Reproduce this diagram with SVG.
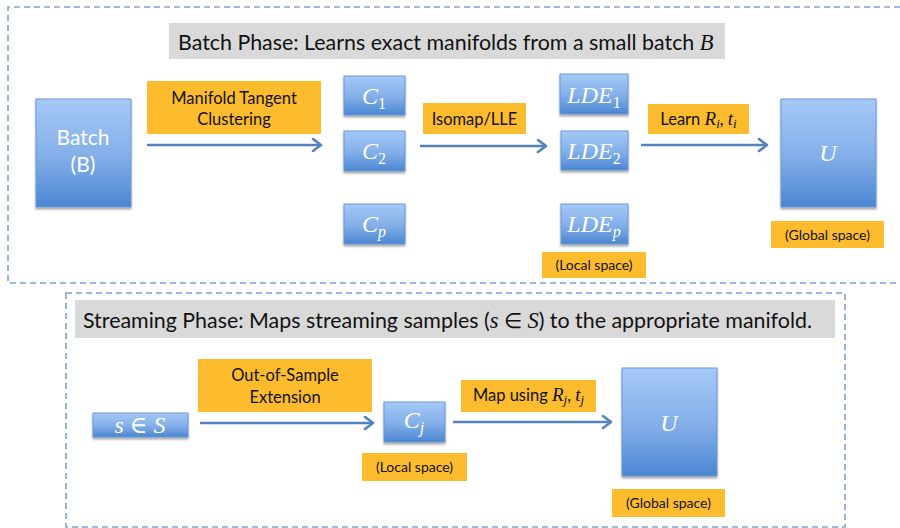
<svg xmlns="http://www.w3.org/2000/svg" width="900" height="528" viewBox="0 0 900 528">
<defs>
<linearGradient id="blue" x1="0" y1="0" x2="0" y2="1">
<stop offset="0" stop-color="#a5c9f8"/>
<stop offset="0.55" stop-color="#82aee8"/>
<stop offset="1" stop-color="#4a86d2"/>
</linearGradient>
<filter id="sh" x="-10%" y="-10%" width="130%" height="130%">
<feGaussianBlur in="SourceAlpha" stdDeviation="1.2"/>
<feOffset dx="0" dy="1.5" result="b"/>
<feComponentTransfer><feFuncA type="linear" slope="0.35"/></feComponentTransfer>
<feMerge><feMergeNode/><feMergeNode in="SourceGraphic"/></feMerge>
</filter>
<marker id="ah" markerUnits="userSpaceOnUse" markerWidth="14" markerHeight="16" refX="10" refY="7" orient="auto">
<path d="M2,1 L10,7 L2,13" fill="none" stroke="#5482bf" stroke-width="2.6" stroke-linecap="round" stroke-linejoin="round"/>
</marker>
</defs>
<style>
.frame{fill:none;stroke:#7ea2d2;stroke-width:1.6;stroke-dasharray:6 4}
.title{fill:#d9d9d9}
.tt{font-family:Lato,"Open Sans",sans-serif;font-size:21.4px;fill:#111}
.node{fill:url(#blue);stroke:#6b97cf;stroke-width:1;filter:url(#sh)}
.lab{fill:#fcbc2e}
.lt{font-family:Lato,"Open Sans",sans-serif;font-size:16.5px;fill:#111;text-anchor:middle}
.st{font-family:Lato,"Open Sans",sans-serif;font-size:14px;fill:#111;text-anchor:middle}
.wt{font-family:Lato,"Open Sans",sans-serif;font-size:21px;fill:#fff;text-anchor:middle}
.m{font-family:"Liberation Serif","DejaVu Serif",serif;font-style:italic}
.mw{font-family:"Liberation Serif","DejaVu Serif",serif;font-style:italic;font-size:24px;fill:#fff;text-anchor:middle}
.sub{font-size:16px}
.up{font-style:normal}
.conn{stroke:#5482bf;stroke-width:2.6;fill:none;marker-end:url(#ah)}
</style>

<!-- Frames -->
<path class="frame" d="M900,7 H8 V283 H900"/>
<rect class="frame" x="66" y="293" width="779" height="234"/>

<!-- Titles -->
<g id="batch-title">
<rect class="title" x="169" y="23" width="556" height="36"/>
<text class="tt" x="178" y="50">Batch Phase: Learns exact manifolds from a small batch <tspan class="m" font-size="22.5">B</tspan></text>
</g>
<g id="stream-title">
<rect class="title" x="75" y="300" width="760" height="38"/>
<text class="tt" x="83" y="328">Streaming Phase: Maps streaming samples (<tspan class="m" font-size="22.5">s</tspan> ∈ <tspan class="m" font-size="22.5">S</tspan>) to the appropriate manifold.</text>
</g>

<!-- Connectors -->
<g id="connectors">
<line class="conn" x1="147" y1="145" x2="321" y2="145"/>
<line class="conn" x1="420" y1="146" x2="546" y2="146"/>
<line class="conn" x1="641" y1="145" x2="767" y2="145"/>
<line class="conn" x1="200" y1="423" x2="373" y2="423"/>
<line class="conn" x1="453" y1="422" x2="611" y2="422"/>
</g>

<!-- Batch phase nodes -->
<g id="batch">
<rect class="node" x="36" y="99" width="95" height="108"/>
<text class="wt" x="83" y="145">Batch</text>
<text class="wt" x="83" y="172">(B)</text>
</g>
<g id="lbl-mtc">
<rect class="lab" x="147" y="81" width="174" height="53"/>
<text class="lt" x="234" y="104">Manifold Tangent</text>
<text class="lt" x="234" y="125">Clustering</text>
</g>
<g id="c1">
<rect class="node" x="344" y="76" width="61" height="39"/>
<text class="mw" x="374" y="104">C<tspan class="sub up" dy="5">1</tspan></text>
</g>
<g id="c2">
<rect class="node" x="344" y="131" width="61" height="40"/>
<text class="mw" x="374" y="159">C<tspan class="sub up" dy="5">2</tspan></text>
</g>
<g id="cp">
<rect class="node" x="344" y="204" width="61" height="40"/>
<text class="mw" x="374" y="232">C<tspan class="sub" dy="5">p</tspan></text>
</g>
<g id="lbl-iso">
<rect class="lab" x="423" y="103" width="103" height="31"/>
<text class="lt" x="474.5" y="125">Isomap/LLE</text>
</g>
<g id="lde1">
<rect class="node" x="560" y="74" width="68" height="40"/>
<text class="mw" x="594" y="103">LDE<tspan class="sub up" dy="5">1</tspan></text>
</g>
<g id="lde2">
<rect class="node" x="561" y="131" width="67" height="39"/>
<text class="mw" x="594" y="159">LDE<tspan class="sub up" dy="5">2</tspan></text>
</g>
<g id="ldep">
<rect class="node" x="561" y="204" width="67" height="40"/>
<text class="mw" x="594" y="232">LDE<tspan class="sub" dy="5">p</tspan></text>
</g>
<g id="lbl-local1">
<rect class="lab" x="542" y="252" width="104" height="26"/>
<text class="st" x="594" y="270">(Local space)</text>
</g>
<g id="lbl-learn">
<rect class="lab" x="648" y="104" width="101" height="30"/>
<text class="lt" x="698.5" y="125">Learn <tspan class="m" font-size="19">R<tspan font-size="13" dy="3">i</tspan></tspan><tspan dy="-3">, </tspan><tspan class="m" font-size="19">t<tspan font-size="13" dy="3">i</tspan></tspan></text>
</g>
<g id="u1">
<rect class="node" x="781" y="99" width="95" height="108"/>
<text class="mw" x="828" y="161">U</text>
</g>
<g id="lbl-global1">
<rect class="lab" x="771" y="221" width="113" height="27"/>
<text class="st" x="827.5" y="240">(Global space)</text>
</g>

<!-- Streaming phase nodes -->
<g id="s-in-S">
<rect class="node" x="93" y="413" width="95" height="24"/>
<text class="mw" x="140" y="433">s <tspan class="up">∈</tspan> S</text>
</g>
<g id="lbl-oos">
<rect class="lab" x="198" y="359" width="174" height="53"/>
<text class="lt" x="285" y="381">Out-of-Sample</text>
<text class="lt" x="285" y="403">Extension</text>
</g>
<g id="cj">
<rect class="node" x="384" y="402" width="61" height="40"/>
<text class="mw" x="414" y="428">C<tspan class="sub" dy="5">j</tspan></text>
</g>
<g id="lbl-local2">
<rect class="lab" x="362" y="453" width="105" height="28"/>
<text class="st" x="414.5" y="472">(Local space)</text>
</g>
<g id="lbl-map">
<rect class="lab" x="461" y="380" width="135" height="32"/>
<text class="lt" x="528.5" y="401">Map using <tspan class="m" font-size="19">R<tspan font-size="13" dy="3">j</tspan></tspan><tspan dy="-3">, </tspan><tspan class="m" font-size="19">t<tspan font-size="13" dy="3">j</tspan></tspan></text>
</g>
<g id="u2">
<rect class="node" x="622" y="368" width="95" height="108"/>
<text class="mw" x="669" y="431">U</text>
</g>
<g id="lbl-global2">
<rect class="lab" x="612" y="489" width="113" height="28"/>
<text class="st" x="668.5" y="508">(Global space)</text>
</g>
</svg>
